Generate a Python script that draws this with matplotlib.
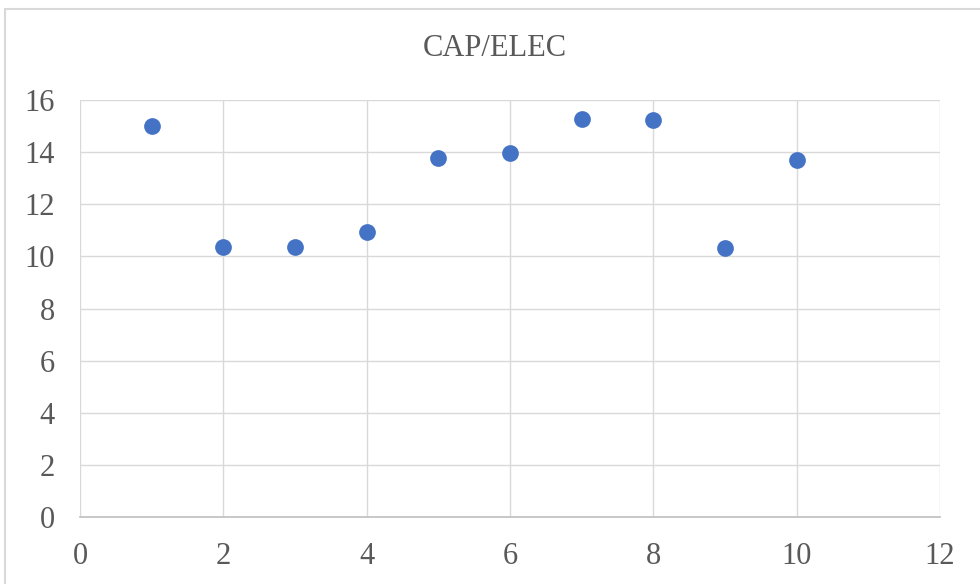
import matplotlib.pyplot as plt
from matplotlib.patches import Rectangle

# values
x_vals = [1, 2, 3, 4, 5, 6, 7, 8, 9, 10]
y_vals = [15.0, 10.35, 10.35, 10.92, 13.77, 13.95, 15.27, 15.22, 10.32, 13.7]
x_ticks = [0, 2, 4, 6, 8, 10, 12]
y_ticks = [0, 2, 4, 6, 8, 10, 12, 14, 16]
title = "CAP/ELEC"

text_color = "#595959"
grid_color = "#d9d9d9"
plt.rcParams['font.family'] = ['Liberation Serif', 'DejaVu Serif']

fig = plt.figure(figsize=(9.8, 5.84), dpi=100)

# outer chart border (cut off at right and bottom like the reference)
fig.patches.append(Rectangle((5 / 980, -0.1), 1.1, 1 - 9 / 584 + 0.1,
                             transform=fig.transFigure, fill=False,
                             edgecolor=grid_color, linewidth=1.5))

ax = fig.add_axes([80 / 980, 1 - 517 / 584, 860 / 980, 417 / 584])
ax.scatter(x_vals, y_vals, s=145, color="#4472C4", zorder=3, linewidths=0)

ax.set_xlim(0, 12)
ax.set_ylim(0, 16)
ax.set_xticks(x_ticks)
ax.set_yticks(y_ticks)
ax.grid(True, color=grid_color, linewidth=1)
for side in ["left", "right", "top"]:
    ax.spines[side].set_visible(False)
ax.spines["bottom"].set_color("#bfbfbf")
ax.spines["bottom"].set_linewidth(1.2)
ax.tick_params(length=0, labelsize=22, labelcolor=text_color)
ax.tick_params(axis="y", pad=18)
ax.tick_params(axis="x", pad=18)
ax.set_axisbelow(True)

fig.text(495 / 980, 1 - 49 / 584, title, ha="center", va="center",
         fontsize=22, color=text_color)

fig.savefig("out.png", dpi=100)
